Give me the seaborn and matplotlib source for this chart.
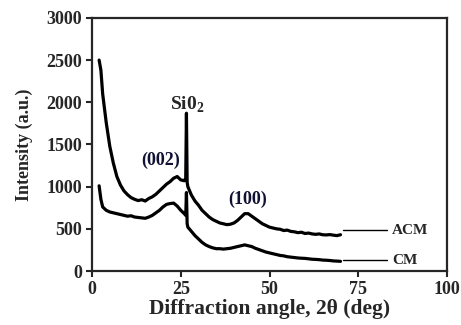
import pandas as pd
import matplotlib.pyplot as plt
import seaborn as sns

# XRD patterns (2theta in deg, intensity in a.u.)
angle = [2, 2.5, 3, 4, 5, 6, 7, 8, 9, 10, 11, 12, 13, 14, 15, 16, 17, 18, 19, 20,
         21, 22, 23, 24, 25, 26, 26.4, 26.6, 26.8, 27, 28, 29, 30, 31, 32, 33, 34,
         35, 36, 37, 38, 39, 40, 41, 42, 43, 44, 45, 46, 47, 48, 49, 50, 51, 52,
         53, 54, 55, 56, 57, 58, 59, 60, 61, 62, 63, 64, 65, 66, 67, 68, 69, 70]

acm = [2500, 2380, 2100, 1760, 1480, 1280, 1120, 1020, 950, 905, 870, 850, 835,
       845, 830, 860, 880, 910, 950, 990, 1030, 1060, 1100, 1120, 1080, 1070,
       1100, 1870, 1050, 1000, 900, 830, 780, 720, 680, 640, 610, 590, 570, 560,
       550, 555, 570, 600, 640, 680, 680, 650, 620, 590, 560, 540, 520, 510, 500,
       495, 480, 485, 470, 465, 455, 460, 445, 450, 440, 435, 440, 430, 428, 432,
       425, 420, 430]

cm = [1010, 850, 760, 720, 700, 690, 680, 670, 660, 650, 655, 640, 635, 630, 625,
      640, 660, 690, 720, 760, 790, 800, 805, 770, 720, 680, 660, 930, 560, 520,
      470, 420, 380, 340, 310, 290, 275, 265, 265, 260, 265, 270, 280, 290, 300,
      310, 300, 290, 270, 255, 240, 225, 215, 205, 195, 185, 180, 170, 165, 160,
      155, 152, 150, 145, 140, 138, 135, 130, 128, 125, 120, 118, 115]

df = pd.DataFrame({'angle': angle * 2,
                   'intensity': acm + cm,
                   'sample': ['ACM'] * len(angle) + ['CM'] * len(angle)})

sns.set_style("ticks")
plt.rcParams['font.family'] = ['Liberation Serif', 'DejaVu Serif']
plt.rcParams['mathtext.fontset'] = 'custom'
plt.rcParams['mathtext.rm'] = 'Liberation Serif:bold'

fig = plt.figure(figsize=(4.61, 3.25), dpi=100)
ax = fig.add_axes([0.1996, 0.166, 0.77, 0.779])

sns.lineplot(data=df, x='angle', y='intensity', units='sample', estimator=None,
             color='black', linewidth=2.3, ax=ax, legend=False)

ax.set_xlim(0, 100)
ax.set_ylim(0, 3000)
ax.set_xticks([0, 25, 50, 75, 100])
ax.set_yticks(range(0, 3001, 500))
ax.tick_params(direction='out', length=4, width=1.5, labelsize=13, pad=3)
for lab in ax.get_xticklabels() + ax.get_yticklabels():
    lab.set_fontweight('bold')
for sp in ax.spines.values():
    sp.set_visible(True)
    sp.set_linewidth(1.6)

ax.set_xlabel("Diffraction angle, 2θ (deg)", fontsize=15.5, fontweight='bold', labelpad=1)
ax.set_ylabel("Intensity (a.u.)", fontsize=13, fontweight='bold', labelpad=10)

# peak labels
lab_color = '#111133'
ax.text(26.7, 1970, r"Si0$_2$", ha='center', va='center', fontsize=14, fontweight='bold')
ax.text(19.2, 1316, "(002)", ha='center', va='center', fontsize=13, fontweight='bold', color=lab_color)
ax.text(43.7, 853, "(100)", ha='center', va='center', fontsize=13, fontweight='bold', color=lab_color)

# series tags on the right
ax.plot([70.7, 83.1], [486, 486], color='black', linewidth=1)
ax.plot([70.7, 83.1], [130, 130], color='black', linewidth=1)
ax.text(84.5, 486, "ACM", ha='left', va='center', fontsize=11, fontweight='bold')
ax.text(84.5, 130, "CM", ha='left', va='center', fontsize=11, fontweight='bold')

plt.savefig("out.png", dpi=100)
